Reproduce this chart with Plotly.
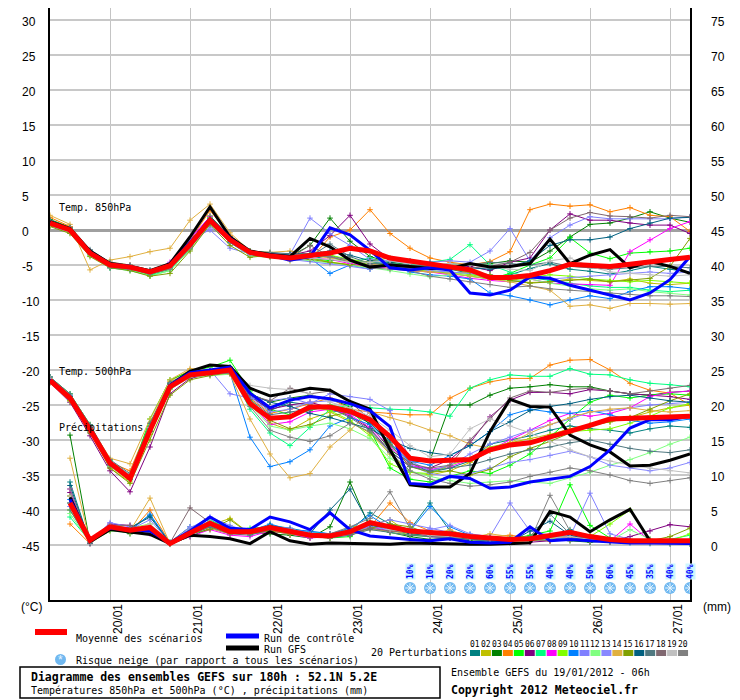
import plotly.graph_objects as go
import pandas as pd

# ---------------- data ----------------
times = pd.date_range("2012-01-19 06:00", periods=33, freq="6h")
day_ticks = pd.date_range("2012-01-20", periods=8, freq="D")
day_labels = [d.strftime("%d/%m") for d in day_ticks]
left_ticks = [30, 25, 20, 15, 10, 5, 0, -5, -10, -15, -20, -25, -30, -35, -40, -45]
right_ticks = [75, 70, 65, 60, 55, 50, 45, 40, 35, 30, 25, 20, 15, 10, 5, 0]

pert_names = ["%02d" % k for k in range(1, 21)]
pert_colors = ["#008080", "#c0c000", "#008000", "#ff8000", "#00ff00", "#800080", "#00ff80",
               "#ff00ff", "#80ff00", "#0080ff", "#8080ff", "#80ff80", "#8888ff", "#e0b040",
               "#80a000", "#006080", "#507880", "#806870", "#c0c0c0", "#808080"]

# 850 hPa temperature (°C)
t850_mean = [1.0, 0.0, -3.3, -5.0, -5.3, -6.0, -5.1, -2.1, 1.4, -1.4, -3.2, -3.7, -4.0, -3.7, -3.3, -2.6, -3.0,
             -4.0, -4.4, -4.8, -5.3, -5.7, -6.8, -6.8, -6.5, -5.8, -4.9, -5.1, -5.2, -4.9, -4.5, -4.2, -3.9]
t850_ctrl = [1.0, 0.0, -3.2, -4.9, -5.2, -6.0, -5.0, -1.8, 1.6, -1.2, -3.2, -3.6, -4.3, -3.8, 0.3, -0.7, -2.9,
             -5.4, -5.7, -5.4, -5.7, -9.0, -9.3, -8.6, -6.7, -6.9, -7.9, -8.6, -9.4, -10.0, -9.0, -7.1, -3.8]
t850_gfs = [1.2, 0.2, -3.0, -4.8, -5.2, -5.8, -4.8, -1.0, 3.3, -1.0, -3.0, -3.5, -3.8, -1.2, -2.4, -4.3, -5.3,
            -5.0, -5.2, -5.5, -5.5, -4.8, -5.3, -5.2, -4.8, -1.3, -4.8, -3.6, -2.8, -5.4, -4.5, -5.2, -6.2]
t850_perts = [
    [1.2, 0.2, -3.0, -5.2, -5.4, -6.1, -5.3, -2.4, 1.0, -1.6, -3.4, -3.6, -3.9, -4.2, -3.6, -4.4, -4.6, -4.8, -5.0, -5.4, -5.6, -6.2, -7.0, -6.4, -5.5, -4.8, -5.6, -5.9, -6.3, -5.8, -5.2, -5.6, -6.0],
    [0.8, -0.2, -3.5, -4.8, -5.2, -6.2, -4.9, -1.9, 1.2, -1.8, -3.6, -3.5, -4.4, -4.0, -4.6, -4.9, -5.3, -5.0, -5.6, -5.9, -6.2, -6.0, -6.6, -7.2, -7.5, -7.4, -7.0, -7.2, -7.4, -7.0, -7.6, -7.8, -7.6],
    [1.5, 0.4, -3.2, -5.1, -5.5, -6.3, -5.6, -2.8, 2.0, -1.0, -3.6, -3.8, -3.8, -2.2, 1.7, -1.6, -3.8, -4.6, -5.0, -5.2, -4.8, -5.0, -4.8, -4.4, -4.6, -3.0, -1.0, 0.8, 1.0, 1.7, 2.6, 1.7, 1.1],
    [1.8, 0.5, -3.0, -4.6, -5.0, -5.8, -4.8, -1.5, 2.8, -0.8, -3.0, -3.4, -3.8, -4.2, -1.0, 0.0, 2.9, -0.5, -2.6, -4.0, -4.6, -5.0, -4.5, -3.1, 2.9, 3.7, 3.4, 3.6, 2.6, 3.2, 2.1, 1.9, -0.2],
    [1.0, 0.1, -3.4, -5.2, -5.6, -6.4, -5.5, -2.2, 1.8, -1.2, -3.0, -3.3, -3.5, -4.0, -4.4, -4.2, -5.0, -5.4, -5.8, -6.0, -6.2, -6.6, -7.0, -6.2, -5.0, -4.0, -1.1, -3.3, -4.1, -3.3, -3.1, -3.0, -2.6],
    [1.2, 0.0, -3.1, -5.0, -5.6, -6.2, -5.0, -1.6, 1.5, -1.0, -3.1, -3.4, -3.6, -3.0, -0.8, 2.1, -2.0, -4.2, -4.6, -5.0, -5.4, -5.2, -5.8, -4.6, -4.0, 0.0, 2.3, 1.4, 1.4, 1.0, 0.7, 0.7, -0.5],
    [1.4, 0.3, -3.6, -5.4, -5.8, -6.5, -5.8, -2.6, 1.1, -1.4, -3.5, -3.4, -3.8, -3.6, -3.9, -4.6, -4.0, -4.8, -5.0, -4.6, -4.2, -2.1, -5.0, -6.0, -6.8, -7.2, -7.6, -8.0, -8.2, -8.2, -8.6, -8.8, -8.6],
    [0.9, -0.3, -3.2, -4.9, -5.4, -6.1, -4.6, -1.2, 1.9, -1.2, -3.2, -3.5, -4.2, -4.0, -4.2, -4.8, -5.2, -5.4, -5.8, -6.0, -6.4, -6.9, -7.2, -7.4, -7.0, -7.6, -7.7, -7.8, -7.9, -3.1, -1.4, 0.2, 1.2],
    [1.1, 0.2, -3.3, -5.0, -5.3, -6.0, -5.2, -2.0, 1.7, -1.5, -3.3, -3.6, -3.9, -3.8, -3.6, -4.2, -4.6, -5.2, -5.6, -5.8, -6.0, -6.4, -6.8, -7.2, -6.8, -6.4, -6.6, -7.0, -7.2, -7.4, -7.2, -7.4, -7.6],
    [1.0, -0.2, -3.4, -5.4, -5.6, -6.2, -5.4, -2.3, 1.2, -1.8, -3.6, -3.4, -3.8, -4.0, -6.2, -5.0, -5.6, -4.8, -6.0, -6.4, -6.6, -7.0, -9.0, -9.4, -10.0, -10.7, -10.0, -9.4, -9.8, -8.8, -8.1, -8.1, -8.4],
    [1.3, 0.1, -3.0, -4.7, -5.1, -5.9, -4.7, -1.3, 0.0, -2.6, -3.4, -3.3, -3.5, 1.7, -0.5, -2.2, -4.2, -4.4, -4.8, -4.6, -4.4, -4.6, -3.0, 0.2, -4.4, -1.1, 0.7, 1.9, 1.6, 1.6, 1.6, 1.6, 1.9],
    [0.7, -0.4, -3.6, -5.2, -5.5, -6.6, -5.8, -2.8, 0.8, -1.6, -3.7, -3.9, -4.2, -4.4, -4.7, -5.0, -5.4, -5.8, -6.3, -6.7, -6.4, -6.2, -6.8, -7.4, -7.0, -7.6, -8.0, -8.4, -8.6, -8.4, -8.8, -9.0, -9.3],
    [0.6, -0.3, -3.4, -4.9, -5.4, -6.0, -5.0, -2.4, 0.4, -1.4, -3.5, -3.6, -4.2, -4.5, -4.8, -5.2, -5.6, -5.0, -5.4, -5.8, -6.0, -6.2, -6.4, -6.8, -6.6, -7.0, -6.8, -6.6, -6.4, -6.2, -6.0, -6.2, -6.0],
    [2.1, 0.8, -5.7, -4.3, -3.8, -3.1, -2.6, 1.4, 3.7, -0.4, -3.0, -3.2, -3.0, -3.6, -4.0, -4.4, -4.8, -5.4, -5.8, -6.0, -6.2, -6.6, -7.0, -7.4, -8.0, -8.6, -10.9, -10.7, -11.2, -10.5, -10.5, -10.6, -10.5],
    [0.5, -0.5, -3.8, -5.4, -5.8, -6.6, -6.2, -3.0, 0.8, -2.2, -3.9, -3.6, -3.8, -4.2, -4.6, -5.0, -4.4, -4.0, -4.6, -5.2, -5.6, -6.0, -6.4, -7.2, -7.6, -7.4, -7.2, -7.0, -7.4, -7.2, -6.9, -5.2, -1.2],
    [1.4, 0.3, -3.0, -4.8, -5.2, -5.8, -5.0, -2.0, 1.6, -1.2, -3.2, -3.6, -3.4, -3.4, -3.0, -3.6, -4.4, -4.6, -4.4, -4.8, -5.2, -5.4, -5.6, -5.2, -4.4, -2.2, -1.4, -1.4, -1.0, 0.2, 1.0, 1.7, 1.8],
    [1.0, 0.0, -2.8, -4.6, -5.0, -5.7, -5.1, -2.2, 1.3, -1.0, -3.0, -3.2, -3.4, -3.8, -2.0, -3.8, -4.8, -4.8, -5.0, -5.2, -5.4, -5.0, -4.6, -4.8, -5.0, -4.6, -5.2, -5.4, -5.6, -5.4, -5.2, -5.2, -5.4],
    [1.1, 0.1, -3.1, -5.0, -5.3, -6.1, -5.4, -2.4, 1.0, -1.6, -3.3, -3.8, -4.0, -2.2, -3.8, -4.6, -5.0, -5.2, -5.4, -5.2, -5.6, -5.4, -5.2, -4.6, -3.2, 0.0, 1.7, 2.5, 2.0, 1.9, 1.7, 2.1, 1.9],
    [0.8, -0.2, -3.4, -5.1, -5.4, -6.0, -5.2, -2.0, 1.4, -1.4, -3.4, -3.6, -3.8, -4.0, -4.2, -4.6, -4.6, -4.4, -4.8, -5.0, -4.8, -5.0, -5.2, -5.6, -5.8, -4.4, -4.0, -5.2, -6.0, -6.2, -6.4, -6.6, -6.4],
    [1.3, 0.4, -3.2, -5.3, -5.6, -6.3, -5.6, -2.6, 1.2, -1.3, -3.2, -3.5, -3.7, -3.5, -3.9, -4.2, -5.4, -5.6, -5.8, -6.6, -7.0, -7.4, -7.8, -8.2, -8.0, -8.4, -8.6, -8.8, -9.0, -9.2, -9.4, -9.4, -9.5],
]

# 500 hPa temperature (°C)
t500_mean = [-21.5, -24.0, -28.5, -33.3, -35.5, -28.6, -22.4, -20.7, -20.4, -20.0, -24.8, -26.9, -26.7, -25.3, -25.3, -25.9, -27.1,
             -29.5, -32.6, -33.0, -32.9, -32.8, -31.4, -30.7, -30.4, -29.6, -28.8, -27.9, -27.0, -26.9, -26.8, -26.8, -26.6]
t500_ctrl = [-21.4, -24.0, -28.4, -33.4, -35.4, -28.6, -22.2, -20.4, -20.0, -19.6, -23.3, -25.4, -24.3, -23.8, -24.1, -24.8, -25.8,
             -28.1, -36.2, -36.4, -35.2, -35.5, -36.9, -36.7, -36.0, -35.6, -35.2, -33.8, -31.4, -28.3, -27.1, -27.1, -26.6]
t500_gfs = [-21.4, -24.0, -28.4, -33.4, -35.4, -28.6, -22.2, -20.2, -19.3, -19.5, -22.6, -23.7, -23.2, -22.6, -22.9, -24.5, -25.6,
            -31.4, -36.4, -36.7, -36.7, -34.8, -28.8, -24.2, -25.2, -25.3, -29.3, -30.7, -31.7, -33.7, -33.6, -32.9, -32.0]
t500_perts = [
    [-21.2, -23.6, -28.0, -33.0, -35.0, -28.0, -22.0, -20.8, -20.6, -20.4, -23.6, -25.8, -24.6, -25.0, -25.8, -26.2, -27.6, -30.4, -33.2, -34.6, -34.0, -33.0, -30.6, -30.0, -29.4, -28.6, -28.0, -28.4, -28.6, -29.0, -28.4, -28.0, -28.2],
    [-21.6, -24.2, -28.8, -34.0, -36.0, -29.2, -22.8, -20.6, -20.2, -19.8, -24.0, -27.6, -28.6, -27.0, -26.0, -27.4, -29.0, -32.0, -34.6, -35.0, -34.4, -33.2, -31.6, -30.4, -29.8, -29.2, -28.4, -27.8, -27.4, -26.8, -26.0, -25.4, -25.0],
    [-21.0, -23.8, -28.2, -33.4, -35.6, -28.4, -22.0, -20.4, -20.0, -19.6, -23.4, -24.6, -24.0, -23.6, -24.2, -25.2, -27.8, -31.4, -33.2, -32.9, -25.0, -25.0, -23.6, -22.6, -22.4, -22.1, -22.4, -22.4, -23.0, -23.4, -23.6, -23.2, -23.0],
    [-21.4, -24.2, -28.6, -33.2, -34.4, -27.6, -21.6, -20.0, -20.2, -20.4, -24.0, -26.2, -25.6, -24.8, -24.0, -25.6, -26.0, -26.2, -26.4, -26.4, -24.0, -22.6, -21.7, -21.2, -21.2, -19.3, -18.6, -18.5, -20.0, -21.9, -22.9, -23.3, -25.0],
    [-21.0, -23.4, -27.8, -33.0, -35.2, -27.0, -21.4, -20.2, -19.6, -18.6, -23.0, -25.6, -26.4, -25.8, -25.0, -25.6, -28.6, -34.0, -35.6, -36.0, -35.2, -34.4, -34.8, -33.6, -32.0, -29.6, -27.0, -24.6, -23.6, -24.0, -23.6, -23.4, -23.6],
    [-21.8, -24.6, -29.4, -34.4, -37.4, -31.0, -23.4, -21.2, -20.6, -20.2, -23.8, -25.6, -25.0, -24.6, -25.4, -26.6, -28.4, -31.6, -33.8, -34.0, -32.8, -30.4, -26.7, -24.3, -23.2, -23.2, -23.4, -22.8, -23.0, -23.4, -23.6, -23.8, -24.2],
    [-21.2, -24.0, -28.4, -33.4, -35.4, -28.8, -22.6, -20.8, -20.4, -20.2, -25.6, -29.0, -30.8, -28.2, -25.6, -25.0, -25.4, -25.6, -25.7, -26.0, -26.6, -22.6, -21.4, -20.7, -20.9, -20.9, -19.8, -20.6, -20.7, -21.4, -21.9, -22.1, -22.4],
    [-21.6, -24.0, -28.2, -33.2, -35.2, -28.4, -22.2, -20.4, -20.0, -19.8, -24.6, -27.8, -27.4, -26.0, -25.6, -26.4, -28.2, -31.0, -33.6, -34.2, -33.8, -32.8, -31.4, -30.0, -28.6, -27.2, -26.2, -26.6, -26.2, -25.4, -23.8, -23.2, -23.0],
    [-21.2, -23.8, -28.4, -33.6, -35.4, -28.6, -22.4, -20.6, -20.2, -20.0, -24.4, -27.0, -26.6, -25.2, -25.8, -27.2, -29.4, -33.4, -34.6, -34.8, -33.6, -32.6, -31.0, -30.4, -30.2, -29.4, -28.8, -28.6, -28.4, -27.6, -26.6, -25.4, -24.8],
    [-21.4, -24.2, -28.6, -33.6, -35.6, -28.8, -22.4, -20.6, -20.2, -20.4, -29.6, -33.8, -33.1, -31.4, -28.0, -26.8, -27.8, -30.6, -33.0, -33.6, -32.2, -30.8, -28.8, -26.4, -25.6, -26.0, -26.2, -25.8, -26.4, -27.2, -27.6, -27.4, -27.0],
    [-21.0, -23.6, -28.0, -33.2, -35.0, -28.2, -22.0, -20.2, -20.0, -23.4, -24.0, -24.4, -24.0, -24.8, -23.4, -23.8, -24.2, -25.8, -33.0, -34.4, -33.6, -32.0, -30.6, -29.6, -28.6, -27.8, -27.0, -26.0, -25.8, -25.4, -25.0, -24.8, -24.6],
    [-21.6, -24.4, -28.8, -33.8, -35.8, -29.0, -22.8, -21.0, -20.8, -20.6, -25.0, -28.0, -28.6, -28.0, -27.6, -28.4, -29.8, -32.6, -34.4, -35.2, -35.8, -36.2, -36.0, -35.8, -36.0, -36.2, -35.4, -34.6, -33.6, -32.8, -31.8, -30.6, -29.6],
    [-21.4, -24.0, -28.4, -33.4, -35.4, -28.4, -22.2, -20.6, -20.4, -20.0, -23.8, -26.0, -25.6, -24.6, -24.4, -24.8, -26.2, -29.6, -33.6, -34.8, -35.2, -34.8, -34.0, -33.2, -32.8, -32.2, -31.6, -32.4, -33.6, -34.0, -34.4, -34.0, -33.2],
    [-21.2, -24.4, -28.0, -32.6, -33.4, -27.0, -21.4, -19.8, -20.0, -20.6, -27.0, -32.0, -35.4, -34.8, -31.0, -28.6, -26.0, -26.8, -27.6, -28.6, -29.4, -30.6, -31.2, -30.4, -29.0, -27.8, -26.8, -26.0, -25.6, -25.4, -25.8, -26.0, -25.8],
    [-21.8, -24.4, -29.0, -34.0, -36.2, -30.0, -23.6, -21.4, -20.8, -20.4, -24.6, -27.2, -28.4, -27.8, -26.6, -26.0, -27.0, -30.6, -33.8, -34.6, -34.4, -35.0, -34.2, -32.4, -31.2, -30.2, -29.0, -28.0, -27.4, -26.8, -25.6, -24.4, -23.4],
    [-21.4, -23.8, -28.2, -33.4, -35.2, -28.2, -22.0, -20.4, -20.2, -20.2, -23.4, -24.6, -25.2, -26.2, -26.8, -27.6, -28.4, -30.0, -31.2, -31.8, -32.2, -30.8, -28.8, -27.4, -25.8, -25.2, -24.8, -24.2, -23.8, -23.6, -24.0, -24.4, -24.6],
    [-21.0, -23.4, -27.8, -32.8, -34.8, -27.6, -21.8, -20.2, -20.0, -20.0, -24.2, -26.4, -26.0, -25.6, -25.4, -26.8, -28.6, -31.6, -33.8, -34.4, -34.0, -33.6, -32.8, -32.0, -31.4, -31.0, -30.4, -30.0, -30.6, -31.2, -31.6, -31.8, -31.4],
    [-21.6, -24.2, -28.6, -33.6, -35.6, -28.8, -22.6, -20.8, -20.6, -20.4, -23.6, -24.4, -22.6, -23.4, -23.0, -24.6, -27.0, -30.8, -33.4, -34.0, -33.6, -30.0, -27.0, -24.0, -23.0, -23.2, -22.8, -22.6, -23.0, -23.4, -23.0, -22.6, -22.2],
    [-21.2, -24.0, -28.4, -33.2, -35.0, -28.2, -22.2, -20.6, -20.2, -19.8, -22.2, -22.6, -22.8, -23.4, -24.6, -25.4, -26.6, -28.6, -30.8, -32.4, -32.0, -28.4, -27.0, -28.0, -29.0, -30.2, -31.4, -32.4, -33.0, -33.6, -34.0, -34.4, -34.7],
    [-21.4, -24.0, -28.4, -33.4, -35.4, -28.6, -22.4, -20.8, -20.6, -20.4, -25.2, -28.6, -29.6, -30.2, -29.4, -27.6, -28.8, -31.8, -34.4, -35.6, -36.2, -36.6, -36.4, -36.0, -35.2, -34.6, -34.0, -34.4, -35.0, -35.8, -36.2, -35.8, -35.4],
]

# precipitation (mm per 6 h); no value at analysis time
pr_mean = [None, 6.0, 0.7, 2.6, 2.1, 2.5, 0.2, 1.7, 3.1, 1.9, 1.9, 2.5, 2.0, 1.4, 1.3, 1.9, 3.2,
           2.6, 2.0, 1.8, 1.6, 1.2, 1.0, 0.8, 0.9, 1.3, 1.8, 1.2, 0.8, 0.6, 0.6, 0.6, 0.6]
pr_ctrl = [None, 6.5, 0.8, 2.4, 2.2, 2.0, 0.3, 2.0, 4.0, 2.4, 2.2, 4.0, 3.3, 2.2, 4.6, 2.2, 1.3,
           1.0, 0.8, 0.6, 0.9, 0.4, 0.3, 0.4, 2.6, 0.6, 0.8, 0.6, 0.4, 0.3, 0.3, 0.3, 0.2]
pr_gfs = [None, 6.8, 0.5, 2.2, 1.8, 1.5, 0.2, 1.4, 1.2, 0.9, 0.2, 1.9, 0.6, 0.1, 0.3, 0.2, 0.2,
          0.1, 0.3, 0.2, 0.1, 0.1, 0.1, 0.2, 0.3, 4.8, 4.0, 1.9, 3.6, 5.1, 0.6, 0.4, 0.3]
pr_perts = [
    [None, 9.0, 0.3, 2.8, 2.4, 4.2, 0.4, 2.6, 3.0, 2.2, 2.0, 2.8, 2.4, 1.8, 1.6, 2.0, 4.6, 3.0, 2.2, 6.0, 2.0, 1.4, 1.0, 0.8, 0.6, 1.2, 2.2, 1.0, 0.6, 0.4, 0.6, 0.4, 0.5],
    [None, 7.0, 0.5, 2.0, 2.6, 1.8, 0.2, 1.6, 2.8, 3.8, 1.6, 2.2, 1.8, 1.2, 1.0, 2.6, 2.8, 3.6, 1.6, 1.4, 1.2, 1.0, 0.8, 1.0, 1.2, 0.8, 2.0, 1.4, 1.0, 0.8, 0.6, 0.8, 0.4],
    [None, 15.7, 0.3, 2.4, 1.6, 2.0, 0.1, 1.2, 2.4, 1.6, 1.8, 1.6, 1.4, 1.0, 2.6, 9.0, 2.4, 1.8, 1.2, 0.8, 1.0, 0.6, 0.4, 0.6, 0.8, 1.0, 0.6, 0.4, 0.6, 0.4, 0.3, 0.2, 0.2],
    [None, 3.0, 0.2, 2.2, 1.8, 5.0, 0.3, 2.0, 2.6, 1.8, 1.6, 2.0, 1.6, 1.4, 1.2, 1.8, 2.6, 6.0, 3.2, 2.0, 1.6, 1.0, 1.2, 1.4, 1.0, 0.6, 0.8, 0.6, 0.4, 0.8, 0.6, 0.4, 0.6],
    [None, 6.0, 0.4, 2.6, 2.2, 2.4, 0.2, 1.8, 3.4, 2.4, 1.8, 2.6, 2.0, 1.6, 1.0, 1.2, 3.0, 2.2, 1.4, 1.2, 1.0, 0.8, 0.6, 0.8, 1.4, 2.0, 8.6, 2.8, 1.0, 0.6, 0.4, 0.4, 0.8],
    [None, 7.5, 0.6, 3.0, 2.8, 2.2, 0.3, 1.6, 2.6, 2.0, 1.6, 2.4, 1.8, 1.2, 1.4, 1.6, 2.4, 2.8, 1.8, 1.6, 1.4, 1.2, 0.8, 0.6, 0.4, 0.6, 1.0, 0.8, 0.6, 1.2, 2.0, 2.9, 2.6],
    [None, 4.0, 0.5, 2.2, 2.0, 2.6, 0.4, 1.4, 3.6, 2.2, 2.4, 2.6, 2.2, 1.8, 1.6, 2.2, 2.8, 2.4, 1.8, 1.6, 1.4, 1.0, 0.8, 0.6, 0.8, 1.0, 1.4, 1.0, 0.6, 0.4, 0.6, 0.8, 1.4],
    [None, 8.0, 0.2, 2.4, 2.6, 1.6, 0.2, 1.2, 2.2, 1.4, 1.2, 2.0, 1.6, 1.0, 1.2, 1.4, 2.6, 2.0, 1.8, 1.2, 1.0, 0.8, 0.6, 0.4, 0.6, 0.8, 1.2, 0.8, 0.6, 3.0, 0.6, 0.4, 0.3],
    [None, 5.0, 0.6, 2.8, 2.4, 3.0, 0.3, 2.2, 2.8, 2.0, 2.2, 2.8, 2.0, 1.6, 1.4, 2.0, 3.4, 2.6, 2.2, 1.6, 1.2, 1.0, 1.2, 0.8, 0.6, 1.0, 1.6, 1.2, 3.0, 5.0, 0.8, 0.6, 1.6],
    [None, 6.5, 0.4, 2.6, 2.0, 4.4, 0.3, 1.8, 3.0, 2.6, 2.0, 3.0, 2.2, 2.0, 1.6, 2.4, 4.2, 2.4, 2.0, 5.5, 2.6, 1.4, 1.0, 0.8, 0.6, 0.8, 1.0, 0.6, 0.4, 0.3, 0.2, 0.3, 0.2],
    [None, 5.5, 0.5, 3.2, 2.6, 2.0, 0.2, 2.4, 4.0, 2.8, 1.8, 2.4, 2.2, 1.8, 1.4, 1.6, 2.8, 3.6, 3.0, 2.4, 1.8, 1.4, 1.2, 6.0, 2.0, 1.4, 1.2, 7.4, 1.6, 0.8, 0.6, 0.4, 0.4],
    [None, 4.5, 0.3, 2.0, 1.8, 2.2, 0.2, 1.6, 2.6, 1.8, 1.6, 2.2, 1.8, 1.4, 1.2, 1.8, 2.4, 1.8, 1.4, 1.6, 1.2, 1.0, 0.6, 0.4, 0.6, 0.8, 1.6, 1.0, 0.6, 2.2, 0.8, 0.6, 0.4],
    [None, 6.0, 0.6, 2.8, 2.2, 3.6, 0.3, 2.6, 2.6, 2.2, 1.8, 2.6, 2.4, 1.4, 1.6, 1.8, 2.6, 2.2, 1.8, 2.2, 2.8, 1.6, 1.2, 1.0, 0.8, 1.2, 1.4, 1.0, 0.8, 0.6, 0.4, 0.3, 0.4],
    [None, 12.4, 0.4, 2.4, 2.0, 6.7, 0.2, 1.8, 2.4, 1.6, 1.8, 2.6, 1.6, 1.2, 1.0, 1.6, 2.2, 2.0, 1.6, 1.4, 2.2, 1.0, 1.6, 1.2, 0.8, 0.6, 0.8, 0.6, 0.6, 0.4, 0.3, 0.4, 0.6],
    [None, 7.0, 0.4, 2.2, 2.4, 2.2, 0.3, 1.6, 2.2, 3.6, 1.6, 2.0, 1.6, 1.4, 1.2, 1.6, 2.4, 3.0, 2.6, 1.6, 1.2, 0.8, 0.6, 0.8, 0.6, 1.0, 1.2, 0.8, 0.6, 0.4, 0.6, 1.2, 2.4],
    [None, 8.5, 0.2, 2.6, 2.4, 4.0, 0.3, 2.0, 2.8, 2.0, 1.8, 2.8, 2.2, 1.6, 5.0, 8.0, 2.8, 2.4, 1.6, 1.4, 1.2, 0.8, 0.6, 0.4, 2.0, 3.4, 1.4, 0.8, 0.6, 0.4, 0.3, 0.2, 0.2],
    [None, 5.0, 0.3, 2.2, 2.0, 1.8, 0.2, 1.4, 2.6, 1.6, 1.4, 2.2, 1.8, 1.2, 1.0, 1.4, 2.2, 1.8, 1.4, 1.2, 1.0, 0.8, 0.6, 0.8, 1.2, 4.4, 1.6, 0.8, 0.6, 0.4, 0.3, 0.3, 0.2],
    [None, 6.0, 0.5, 2.8, 2.8, 2.0, 0.3, 5.3, 3.2, 2.4, 1.8, 2.4, 2.0, 1.6, 1.4, 1.6, 2.4, 2.0, 1.8, 1.4, 1.2, 1.0, 1.2, 1.0, 0.8, 0.6, 0.8, 0.6, 0.4, 0.6, 0.8, 0.6, 0.4],
    [None, 7.0, 0.4, 2.6, 2.2, 3.0, 0.2, 2.0, 3.4, 2.0, 2.0, 2.4, 2.0, 1.4, 1.2, 2.0, 3.2, 2.2, 1.8, 1.4, 1.2, 1.0, 0.8, 0.6, 0.8, 1.0, 1.2, 0.8, 0.6, 0.4, 0.3, 0.3, 0.3],
    [None, 8.0, 0.3, 2.4, 2.4, 2.2, 0.3, 1.8, 3.0, 2.2, 1.8, 2.6, 2.2, 1.6, 1.6, 2.6, 3.8, 7.6, 2.4, 1.6, 1.4, 1.2, 1.0, 0.8, 0.6, 7.1, 2.0, 1.2, 0.8, 0.6, 0.4, 0.3, 0.3],
]

# snow risk (% of scenarios), from step 18 to the end
snow_start = 18
snow_pct = [10, 10, 20, 20, 60, 55, 55, 40, 40, 50, 60, 45, 35, 40, 40]

# ---------------- figure ----------------
MONO = "DejaVu Sans Mono"
SANS = "Liberation Sans"
OFF = 8                      # page body margin of the browser
W, H = 740 - OFF, 700 - OFF  # figure size so that it fills the window
PLOT_X0, PLOT_X1 = 50, 690   # plot area in page pixels
PLOT_Y0, PLOT_Y1 = OFF, 600
L, R = PLOT_X0 - OFF, W - (PLOT_X1 - OFF)
T, B = PLOT_Y0 - OFF, H - (PLOT_Y1 - OFF)
PW, PH = PLOT_X1 - PLOT_X0, PLOT_Y1 - PLOT_Y0
Y_LO, Y_HI = (230 - PLOT_Y1) / 7.0, (230 - PLOT_Y0) / 7.0


def px(x):
    return (x - PLOT_X0) / PW


def py(y):
    return (PLOT_Y1 - y) / PH


fig = go.Figure()


def add_pert(y, color, yaxis):
    fig.add_trace(go.Scatter(
        x=times, y=y, mode="lines+markers", yaxis=yaxis, showlegend=False,
        line=dict(color=color, width=1),
        marker=dict(symbol="cross-thin", size=4, color=color, line=dict(color=color, width=1)),
        hoverinfo="skip"))


for group, yaxis in ((t850_perts, "y"), (t500_perts, "y"), (pr_perts, "y2")):
    for k, series in enumerate(group):
        add_pert(series, pert_colors[k], yaxis)

for (gfs, ctrl, mean, yaxis) in ((t850_gfs, t850_ctrl, t850_mean, "y"),
                                 (t500_gfs, t500_ctrl, t500_mean, "y"),
                                 (pr_gfs, pr_ctrl, pr_mean, "y2")):
    fig.add_trace(go.Scatter(x=times, y=gfs, mode="lines", yaxis=yaxis, showlegend=False,
                             line=dict(color="black", width=3)))
    fig.add_trace(go.Scatter(x=times, y=ctrl, mode="lines", yaxis=yaxis, showlegend=False,
                             line=dict(color="#0000ff", width=3)))
    fig.add_trace(go.Scatter(x=times, y=mean, mode="lines", yaxis=yaxis, showlegend=False,
                             line=dict(color="#ff0000", width=5)))

# snow risk icons
snow_times = list(times[snow_start:snow_start + len(snow_pct)])
ICON_Y = (230 - 588) / 7.0
fig.add_trace(go.Scatter(x=snow_times, y=[ICON_Y] * len(snow_times), mode="markers", showlegend=False,
                         marker=dict(symbol="circle", size=12, color="#70b8f0", line=dict(width=0)),
                         hoverinfo="skip"))
fig.add_trace(go.Scatter(x=snow_times, y=[ICON_Y] * len(snow_times), mode="markers", showlegend=False,
                         marker=dict(symbol="asterisk-open", size=8, color="#e8f6ff",
                                     line=dict(color="#e8f6ff", width=1)),
                         hoverinfo="skip"))
for t, p in zip(snow_times, snow_pct):
    fig.add_annotation(x=t, xref="x", y=py(572), yref="paper", text="<b>%d%%</b>" % p, textangle=-90,
                       showarrow=False, font=dict(family=MONO, size=8, color="#0000ff"),
                       bgcolor="#ccf6ff", borderpad=0, xanchor="center", yanchor="middle")

# axes
fig.update_layout(
    width=W, height=H, margin=dict(l=L, r=R, t=T, b=B, pad=0),
    paper_bgcolor="white", plot_bgcolor="white",
    xaxis=dict(range=[times[0], times[-1]], tickvals=list(day_ticks), showticklabels=False,
               showgrid=True, gridcolor="#c4c4c4", gridwidth=1, zeroline=False,
               showline=True, linecolor="black", linewidth=2, ticks=""),
    yaxis=dict(range=[Y_LO, Y_HI], tickvals=left_ticks, showticklabels=False, showgrid=True,
               gridcolor="#c8c8c8", gridwidth=2, zeroline=True, zerolinecolor="#a0a0a0",
               zerolinewidth=3, showline=True, linecolor="black", linewidth=2, ticks=""),
    yaxis2=dict(range=[Y_LO + 45, Y_HI + 45], overlaying="y", side="right", showgrid=False,
                zeroline=False, showticklabels=False, showline=True, linecolor="black",
                linewidth=2, ticks=""),
)

# tick labels
for v in left_ticks:
    fig.add_annotation(x=px(20), xref="paper", y=v, yref="y", text=str(v), showarrow=False,
                       xanchor="left", yanchor="middle", yshift=-2, font=dict(family=SANS, size=12, color="black"))
for v in right_ticks:
    fig.add_annotation(x=px(709), xref="paper", y=v, yref="y2", text=str(v), showarrow=False,
                       xanchor="left", yanchor="middle", yshift=-2, font=dict(family=SANS, size=12, color="black"))
for d, lab in zip(day_ticks, day_labels):
    fig.add_annotation(x=d, xref="x", y=py(602), yref="paper", text=lab, textangle=-90, showarrow=False,
                       xanchor="center", yanchor="top", xshift=8, font=dict(family=SANS, size=12, color="black"))


def text(x, y, s, size=10, bold=False, anchor="left", family=MONO, color="black"):
    fig.add_annotation(x=px(x), xref="paper", y=py(y), yref="paper",
                       text=("<b>%s</b>" % s) if bold else s, showarrow=False,
                       xanchor=anchor, yanchor="middle", font=dict(family=family, size=size, color=color))


text(19, 607, "(°C)", size=12, family=SANS)
text(701, 607, "(mm)", size=12, family=SANS)
text(57, 207, "Temp. 850hPa")
text(57, 371, "Temp. 500hPa")
text(57, 427, "Précipitations")

# legend
shapes = []
shapes.append(dict(type="line", xref="paper", yref="paper", x0=px(35), x1=px(67), y0=py(632), y1=py(632),
                   line=dict(color="#ff0000", width=6)))
shapes.append(dict(type="line", xref="paper", yref="paper", x0=px(226), x1=px(259), y0=py(636), y1=py(636),
                   line=dict(color="#0000ff", width=5)))
shapes.append(dict(type="line", xref="paper", yref="paper", x0=px(226), x1=px(259), y0=py(648), y1=py(648),
                   line=dict(color="black", width=5)))
shapes.append(dict(type="circle", xref="paper", yref="paper", x0=px(55), x1=px(66), y0=py(654), y1=py(665),
                   fillcolor="#70b8f0", line=dict(width=0)))
fig.add_annotation(x=px(60.5), xref="paper", y=py(659.5), yref="paper", text="*", showarrow=False,
                   xanchor="center", yanchor="middle", font=dict(family=SANS, size=12, color="#e8f6ff"))
text(74, 638, "Moyenne des scénarios")
text(262, 638, "Run de contrôle")
text(262, 649, "Run GFS")
text(74, 660, "Risque neige (par rapport a tous les scénarios)")
text(369, 652, "20 Perturbations")
for k, (name, col) in enumerate(zip(pert_names, pert_colors)):
    x0 = 470 + k * 10.95
    shapes.append(dict(type="rect", xref="paper", yref="paper", x0=px(x0), x1=px(x0 + 10),
                       y0=py(656), y1=py(650), fillcolor=col, line=dict(width=0)))
    fig.add_annotation(x=px(x0 + 5), xref="paper", y=py(644), yref="paper", text=name, showarrow=False,
                       xanchor="center", yanchor="middle", font=dict(family=MONO, size=8, color="black"))

shapes.append(dict(type="rect", xref="paper", yref="paper", x0=px(20), x1=px(440), y0=py(667), y1=py(698),
                   line=dict(color="black", width=1.5), fillcolor="rgba(0,0,0,0)"))
text(29, 677, "Diagramme des ensembles GEFS sur 180h : 52.1N 5.2E", size=11.5, bold=True)
text(29, 690, "Températures 850hPa et 500hPa (°C) , précipitations (mm)")
text(449, 672, "Ensemble GEFS du 19/01/2012 - 06h")
text(449, 690, "Copyright 2012 Meteociel.fr", size=11.5, bold=True)

fig.update_layout(shapes=shapes)
fig.write_html("out.html")
